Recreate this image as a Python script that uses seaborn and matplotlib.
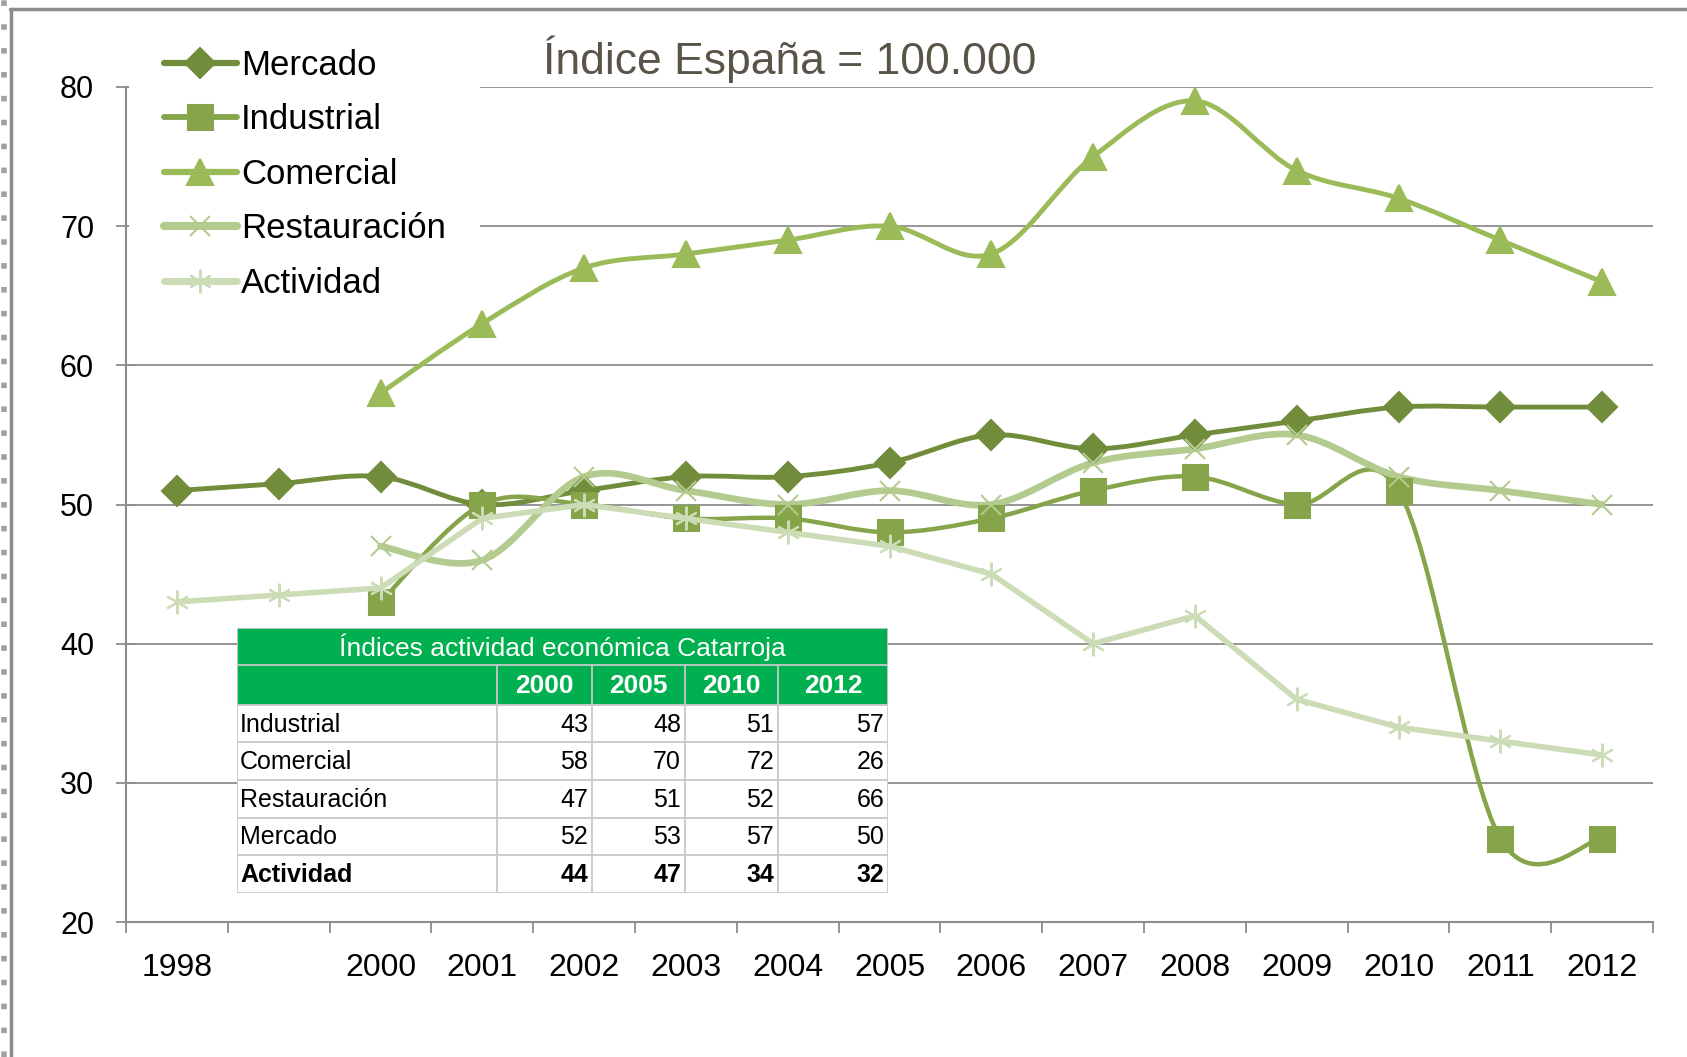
import numpy as np
import pandas as pd
import matplotlib
matplotlib.use('Agg')
import matplotlib.pyplot as plt
import seaborn as sns
from matplotlib.path import Path
from matplotlib.patches import PathPatch, Rectangle
from matplotlib.lines import Line2D
from matplotlib import font_manager

nan = np.nan

# datos del grafico (indice, Espana = 100.000)
years = ['1998', '', '2000', '2001', '2002', '2003', '2004', '2005', '2006',
         '2007', '2008', '2009', '2010', '2011', '2012']
mercado = [51, 51.5, 52, 50, 51, 52, 52, 53, 55, 54, 55, 56, 57, 57, 57]
industrial = [nan, nan, 43, 50, 50, 49, 49, 48, 49, 51, 52, 50, 51, 26, 26]
comercial = [nan, nan, 58, 63, 67, 68, 69, 70, 68, 75, 79, 74, 72, 69, 66]
restauracion = [nan, nan, 47, 46, 52, 51, 50, 51, 50, 53, 54, 55, 52, 51, 50]
actividad = [43, 43.5, 44, 49, 50, 49, 48, 47, 45, 40, 42, 36, 34, 33, 32]

# tabla
table_title = 'Índices actividad económica Catarroja'
table_years = ['2000', '2005', '2010', '2012']
table_rows = ['Industrial', 'Comercial', 'Restauración', 'Mercado', 'Actividad']
table_values = [[43, 48, 51, 57],
                [58, 70, 72, 26],
                [47, 51, 52, 66],
                [52, 53, 57, 50],
                [44, 47, 34, 32]]

series = [
    ('Mercado', mercado, '#718D3C', 'D', 15, 3.5, True),
    ('Industrial', industrial, '#86A44A', 's', 18, 3.2, True),
    ('Comercial', comercial, '#9BBB59', '^', 19, 3.5, True),
    ('Restauración', restauracion, '#B3CB8E', 'x', 15, 4.8, True),
    ('Actividad', actividad, '#CCDCB6', (6, 2, 0), 17, 4.0, False),
]

sns.set_style('white')
names = {f.name for f in font_manager.fontManager.ttflist}
narrow = 'Liberation Sans Narrow' if 'Liberation Sans Narrow' in names else 'Liberation Sans'
plt.rcParams['font.family'] = [narrow, 'DejaVu Sans']
plt.rcParams['text.color'] = 'black'

W, H = 1687, 1057
fig = plt.figure(figsize=(W / 100, H / 100), dpi=100)
ax = fig.add_axes([126 / W, 1 - 922 / H, (1653 - 126) / W, (922 - 87) / H])

x = np.arange(len(years))


def smooth_path(xs, ys):
    # curva tipo Excel (bezier catmull-rom)
    pts = [np.array([a, b]) for a, b in zip(xs, ys) if not np.isnan(b)]
    n = len(pts)
    verts = [pts[0]]
    codes = [Path.MOVETO]
    for i in range(n - 1):
        p0 = pts[i - 1] if i > 0 else pts[i]
        p1 = pts[i]
        p2 = pts[i + 1]
        p3 = pts[i + 2] if i + 2 < n else pts[i + 1]
        verts += [p1 + (p2 - p0) / 6, p2 - (p3 - p1) / 6, p2]
        codes += [Path.CURVE4] * 3
    return Path(verts, codes)


handles = []
for name, vals, col, mk, ms, lw, smooth in series:
    df = pd.DataFrame({'x': x, 'y': vals}).dropna()
    if smooth:
        ax.add_patch(PathPatch(smooth_path(df.x.values, df.y.values), fill=False,
                               edgecolor=col, lw=lw, capstyle='round', joinstyle='round', zorder=3))
        sns.lineplot(data=df, x='x', y='y', ax=ax, color=col, marker=mk, markersize=ms,
                     markeredgecolor=col, markeredgewidth=1.5, linestyle='', zorder=4)
    else:
        sns.lineplot(data=df, x='x', y='y', ax=ax, color=col, lw=lw, marker=mk, markersize=ms,
                     markeredgecolor=col, markeredgewidth=1.5, zorder=4)
    handles.append(Line2D([], [], color=col, lw=lw + 1, marker=mk, markersize=ms,
                          markeredgecolor=col, markeredgewidth=1.5, label=name))

ax.set_xlim(-0.5, len(years) - 0.5)
ax.set_ylim(20, 80)
ax.set_yticks(range(20, 81, 10))
ax.set_xticks(np.arange(-0.5, len(years), 1))
ax.set_xticklabels([])
ax.set_xticks(x, minor=True)
ax.set_xticklabels(years, minor=True)
ax.set_xlabel('')
ax.set_ylabel('')
ax.yaxis.grid(True, color='#8C8C8C', lw=1.3)
ax.set_axisbelow(True)
for s in ['top', 'right']:
    ax.spines[s].set_visible(False)
for s in ['left', 'bottom']:
    ax.spines[s].set_color('#8C8C8C')
    ax.spines[s].set_linewidth(1.5)
    ax.spines[s].set_zorder(6)
ax.tick_params(axis='x', which='major', direction='out', length=8, width=1.3,
               color='#8C8C8C', bottom=True)
ax.tick_params(axis='x', which='minor', length=0, pad=22, labelsize=23, labelcolor='black')
ax.tick_params(axis='y', direction='inout', length=14, width=1.3, color='#8C8C8C',
               left=True, pad=16, labelsize=22, labelcolor='black')

# leyenda por encima de la reticula pero debajo de las series
leg = ax.legend(handles=handles, loc='upper left', bbox_to_anchor=(129 / W, 1 - 14 / H),
                bbox_transform=fig.transFigure,
                fontsize=25, frameon=True, facecolor='white', edgecolor='none', framealpha=1,
                handlelength=2.1, handletextpad=0.12, labelspacing=0.62, borderpad=1.0,
                borderaxespad=0)
leg.set_zorder(2.5)

fig.text(543 / W, 1 - 59 / H, 'Índice España = 100.000', fontsize=32,
         color='#5A5448', ha='left', va='center')

# tabla incrustada
tx = [237, 497, 592, 685, 778, 888]
ty = [628, 665, 705, 742, 780, 818, 855, 893]
tab = fig.add_axes([tx[0] / W, 1 - ty[-1] / H, (tx[-1] - tx[0]) / W, (ty[-1] - ty[0]) / H])
tab.set_xlim(tx[0], tx[-1])
tab.set_ylim(ty[-1], ty[0])
tab.axis('off')
green = '#00B050'
grid_c = '#C8C8C8'
tab.add_patch(Rectangle((tx[0], ty[0]), tx[-1] - tx[0], ty[2] - ty[0], color=green, zorder=1))
tab.add_patch(Rectangle((tx[0], ty[2]), tx[-1] - tx[0], ty[-1] - ty[2], color='white', zorder=1))
for yy in ty[1:]:
    tab.plot([tx[0], tx[-1]], [yy, yy], color=grid_c, lw=1.3, zorder=2)
tab.plot([tx[0], tx[-1]], [ty[0], ty[0]], color=grid_c, lw=1.3, zorder=2)
for xx in tx:
    y0 = ty[0] if xx in (tx[0], tx[-1]) else ty[1]
    tab.plot([xx, xx], [y0, ty[-1]], color=grid_c, lw=1.3, zorder=2)
tab.text((tx[0] + tx[-1]) / 2, (ty[0] + ty[1]) / 2 + 1, table_title, color='white',
         fontsize=19, ha='center', va='center', zorder=3)
for j, yr in enumerate(table_years):
    tab.text((tx[j + 1] + tx[j + 2]) / 2, (ty[1] + ty[2]) / 2 + 1, yr, color='white',
             fontsize=19, fontweight='bold', ha='center', va='center', zorder=3)
for i, rname in enumerate(table_rows):
    yc = (ty[i + 2] + ty[i + 3]) / 2 + 1
    fw = 'bold' if rname == 'Actividad' else 'normal'
    tab.text(tx[0] + 3, yc, rname, fontsize=18, fontweight=fw, ha='left', va='center', zorder=3)
    for j, v in enumerate(table_values[i]):
        tab.text(tx[j + 2] - 4, yc, str(v), fontsize=18, fontweight=fw, ha='right',
                 va='center', zorder=3)

# marco de la imagen
fig.add_artist(Line2D([10 / W, 1], [1 - 9 / H, 1 - 9 / H], color='#8C8C8C', lw=2.5))
fig.add_artist(Line2D([11 / W, 11 / W], [0, 1 - 9 / H], color='#8C8C8C', lw=2.5))
fig.add_artist(Line2D([4 / W, 4 / W], [0, 1], color='#A0A0A0', lw=4,
                      linestyle=(0, (1, 3.3))))

fig.savefig('out.png', dpi=100)
